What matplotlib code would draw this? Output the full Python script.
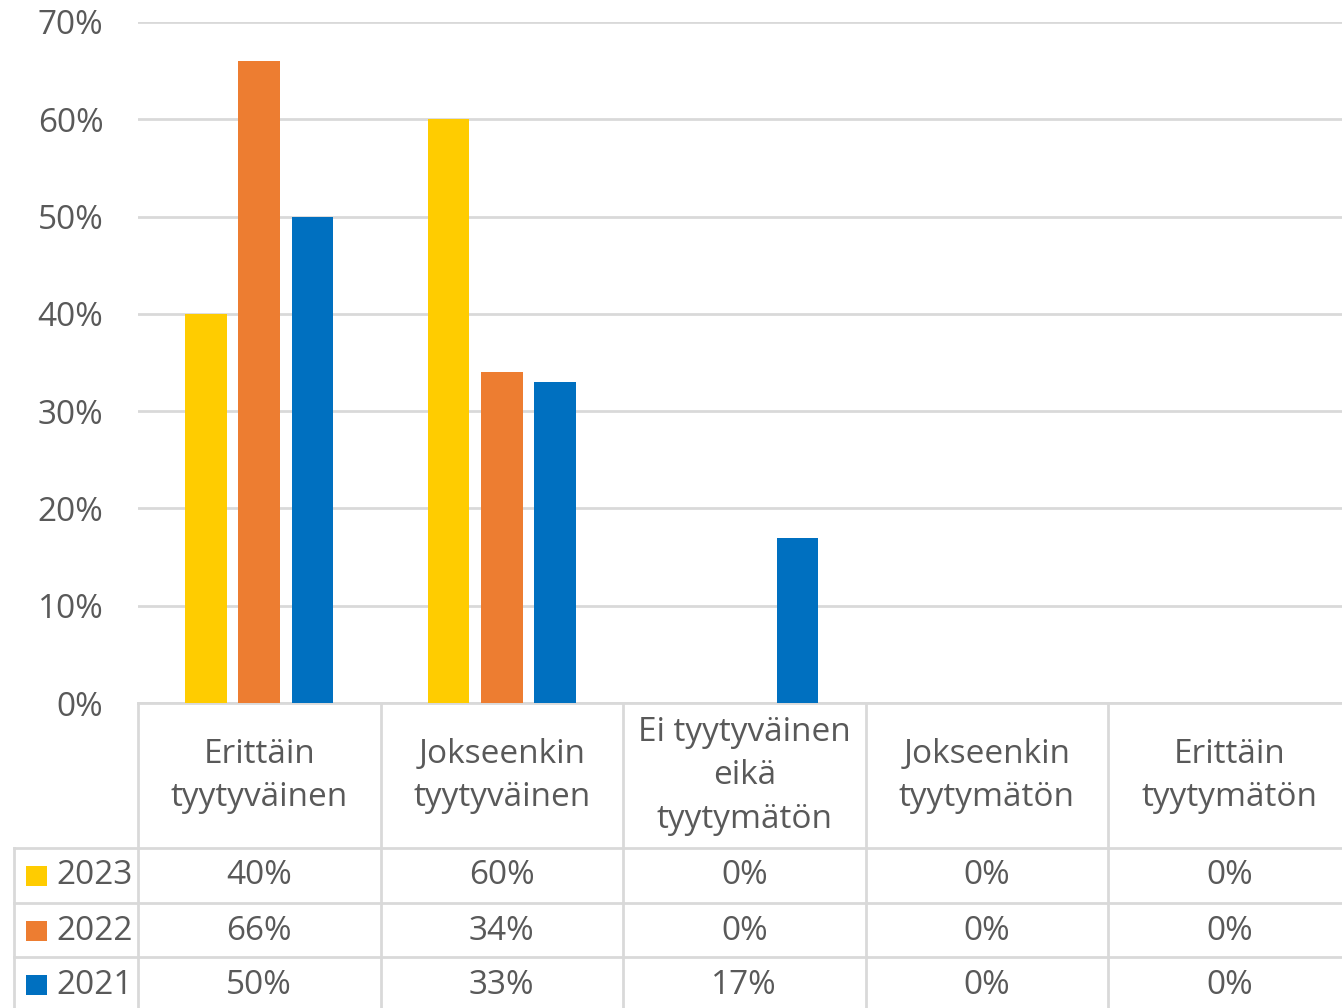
import matplotlib
matplotlib.use("Agg")
import matplotlib.pyplot as plt
from matplotlib.patches import Rectangle

categories = ["Erittäin\ntyytyväinen", "Jokseenkin\ntyytyväinen", "Ei tyytyväinen\neikä\ntyytymätön",
              "Jokseenkin\ntyytymätön", "Erittäin\ntyytymätön"]
series_names = ["2023", "2022", "2021"]
v2023 = [40, 60, 0, 0, 0]
v2022 = [66, 34, 0, 0, 0]
v2021 = [50, 33, 17, 0, 0]
values = [v2023, v2022, v2021]
colors = ["#FFCC00", "#ED7D31", "#0070C0"]
yticks = [0, 10, 20, 30, 40, 50, 60, 70]

W, H = 1342, 1008
plt.rcParams['font.family'] = ['Open Sans', 'DejaVu Sans']
fig = plt.figure(figsize=(W / 100, H / 100), dpi=100)
TXT = "#595959"
GRID = "#D9D9D9"
FS = 24

def fx(px):
    return px / W

def fy(py):
    return 1 - py / H

x0, x1 = 138, 1350.5
ytop, ybot = 22, 703
ax = fig.add_axes([fx(x0), fy(ybot), fx(x1) - fx(x0), fy(ytop) - fy(ybot)])
ax.set_xlim(-0.5, len(categories) - 0.5)
ax.set_ylim(0, 70)
bw = 0.173
step = 0.2196
for i, (vals, c) in enumerate(zip(values, colors)):
    xs = [k + (i - 1) * step for k in range(len(categories))]
    ax.bar(xs, vals, width=bw, color=c, zorder=3)
ax.set_yticks(yticks)
ax.set_yticklabels([f"{t}%" for t in yticks], fontsize=FS, color=TXT)
ax.tick_params(axis='y', length=0, pad=25)
ax.set_xticks([])
ax.grid(axis='y', color=GRID, linewidth=2, zorder=0)
for s in ["top", "right", "left"]:
    ax.spines[s].set_visible(False)
ax.spines["bottom"].set_color(GRID)
ax.spines["bottom"].set_linewidth(2)

# data table
ncat = len(categories)
colw = (x1 - x0) / ncat
row_tops = [848, 903, 957]
row_bot = 1008 + 2
lw = 2
for k in range(ncat + 1):
    xp = x0 + k * colw
    fig.add_artist(plt.Line2D([fx(xp), fx(xp)], [fy(ybot), fy(row_bot)], color=GRID, lw=lw))
fig.add_artist(plt.Line2D([fx(14), fx(14)], [fy(848), fy(row_bot)], color=GRID, lw=lw))
for yp in row_tops:
    fig.add_artist(plt.Line2D([fx(14), fx(x1)], [fy(yp), fy(yp)], color=GRID, lw=lw))

for k, cat in enumerate(categories):
    xc = x0 + (k + 0.5) * colw
    fig.text(fx(xc), fy(776), cat, ha='center', va='center', fontsize=FS, color=TXT,
             linespacing=1.42)

row_centers = [876, 931, 985]
for r, (name, vals, c) in enumerate(zip(series_names, values, colors)):
    yc = row_centers[r]
    fig.add_artist(Rectangle((fx(26), fy(yc + 10)), fx(21), fy(yc - 10) - fy(yc + 10),
                             facecolor=c, edgecolor='none'))
    fig.text(fx(56), fy(yc), name, ha='left', va='center', fontsize=FS, color=TXT)
    for k, v in enumerate(vals):
        xc = x0 + (k + 0.5) * colw
        fig.text(fx(xc), fy(yc), f"{v}%", ha='center', va='center', fontsize=FS, color=TXT)

fig.savefig("out.png", dpi=100)
